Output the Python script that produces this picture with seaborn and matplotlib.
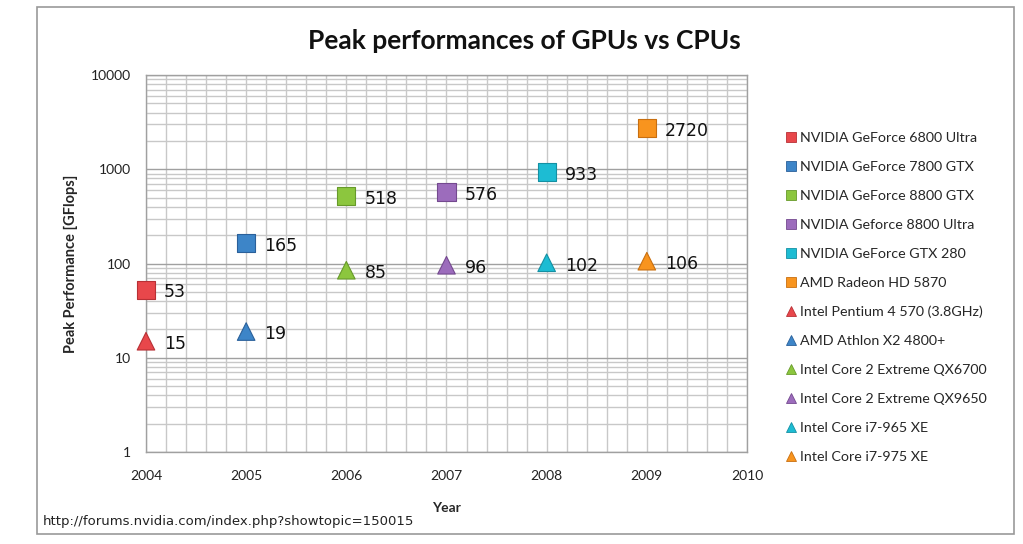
import matplotlib
matplotlib.use("Agg")
import matplotlib.pyplot as plt
import matplotlib.ticker as ticker
from matplotlib.lines import Line2D
from matplotlib.patches import Rectangle
import seaborn as sns
import pandas as pd

# Data
years = [2004, 2005, 2006, 2007, 2008, 2009]
gpu_names = [
    "NVIDIA GeForce 6800 Ultra",
    "NVIDIA GeForce 7800 GTX",
    "NVIDIA GeForce 8800 GTX",
    "NVIDIA Geforce 8800 Ultra",
    "NVIDIA GeForce GTX 280",
    "AMD Radeon HD 5870",
]
gpu_gflops = [53, 165, 518, 576, 933, 2720]
cpu_names = [
    "Intel Pentium 4 570 (3.8GHz)",
    "AMD Athlon X2 4800+",
    "Intel Core 2 Extreme QX6700",
    "Intel Core 2 Extreme QX9650",
    "Intel Core i7-965 XE",
    "Intel Core i7-975 XE",
]
cpu_gflops = [15, 19, 85, 96, 102, 106]
year_colors = ["#e8474b", "#3d85c8", "#8cc63e", "#9c6cbc", "#1dbcd3", "#f8941e"]
edge_colors = ["#b83035", "#2a609a", "#679a2a", "#74498f", "#1490a3", "#c86f10"]

sns.set_theme(style="white")
plt.rcParams["font.family"] = ["Lato", "DejaVu Sans"]

df = pd.DataFrame({
    "device": gpu_names + cpu_names,
    "year": years + years,
    "gflops": gpu_gflops + cpu_gflops,
    "kind": ["GPU"] * len(gpu_names) + ["CPU"] * len(cpu_names),
})
palette = dict(zip(gpu_names + cpu_names, year_colors + year_colors))
edges = dict(zip(gpu_names + cpu_names, edge_colors + edge_colors))

fig = plt.figure(figsize=(10.23, 5.44), dpi=100)
ax = fig.add_axes([0.1427, 0.169, 0.5875, 0.693])

for kind, marker, size in [("GPU", "s", 170), ("CPU", "^", 160)]:
    sub = df[df["kind"] == kind]
    sns.scatterplot(data=sub, x="year", y="gflops", hue="device", palette=palette,
                    marker=marker, s=size, edgecolor=[edges[d] for d in sub["device"]],
                    linewidth=0.8, legend=False, ax=ax, zorder=3, clip_on=False)

for _, row in df.iterrows():
    ax.annotate(f"{row['gflops']}", (row["year"], row["gflops"]),
                xytext=(13, -2), textcoords="offset points",
                ha="left", va="center", fontsize=12.5, color="#111111",
                family=["DejaVu Sans"])

ax.set_yscale("log")
ax.set_ylim(1, 10000)
ax.set_xlim(2004, 2010)
ax.xaxis.set_major_locator(ticker.MultipleLocator(1))
ax.xaxis.set_minor_locator(ticker.MultipleLocator(0.2))
ax.xaxis.set_major_formatter(ticker.FormatStrFormatter("%d"))
ax.yaxis.set_major_locator(ticker.LogLocator(base=10))
ax.yaxis.set_minor_locator(ticker.LogLocator(base=10, subs=range(2, 10)))
ax.yaxis.set_major_formatter(ticker.FuncFormatter(lambda v, p: f"{v:g}"))
ax.yaxis.set_minor_formatter(ticker.NullFormatter())

ax.grid(True, which="minor", axis="both", color="#c8c8c8", lw=1.0)
ax.grid(True, which="major", axis="x", color="#c8c8c8", lw=1.0)
ax.grid(True, which="major", axis="y", color="#a0a0a0", lw=1.0)
ax.set_axisbelow(True)
for sp in ax.spines.values():
    sp.set_color("#a0a0a0")
    sp.set_linewidth(1.0)

ax.tick_params(axis="both", which="major", direction="out", length=5, width=1,
               color="#a0a0a0", labelsize=10, labelcolor="#222222", pad=6)
ax.tick_params(axis="both", which="minor", length=0)
ax.tick_params(axis="x", which="major", pad=8)

ax.set_xlabel("Year", fontsize=10, fontweight="bold", labelpad=14)
ax.set_ylabel("Peak Performance [GFlops]", fontsize=10.5, fontweight="bold", labelpad=9)
fig.text(0.513, 0.925, "Peak performances of GPUs vs CPUs", ha="center", va="center",
         fontsize=19, fontweight="bold", color="#111111")

handles = []
for name, c, e in zip(gpu_names, year_colors, edge_colors):
    handles.append(Line2D([], [], ls="", marker="s", ms=7, mfc=c, mec=e, mew=0.6, label=name))
for name, c, e in zip(cpu_names, year_colors, edge_colors):
    handles.append(Line2D([], [], ls="", marker="^", ms=7, mfc=c, mec=e, mew=0.6, label=name))
fig.legend(handles=handles, loc="upper left", bbox_to_anchor=(0.762, 0.770),
           frameon=False, fontsize=10.3, handlelength=0.6, handletextpad=0.3,
           labelspacing=1.18, borderpad=0)

fig.text(0.042, 0.042, "http://forums.nvidia.com/index.php?showtopic=150015",
         ha="left", va="center", fontsize=9.5, color="#222222", family=["DejaVu Sans"])

fig.add_artist(Rectangle((0.0362, 0.0184), 0.955, 0.9686, transform=fig.transFigure,
                         fill=False, edgecolor="#999999", lw=1.2))

fig.savefig("out.png", dpi=100)
